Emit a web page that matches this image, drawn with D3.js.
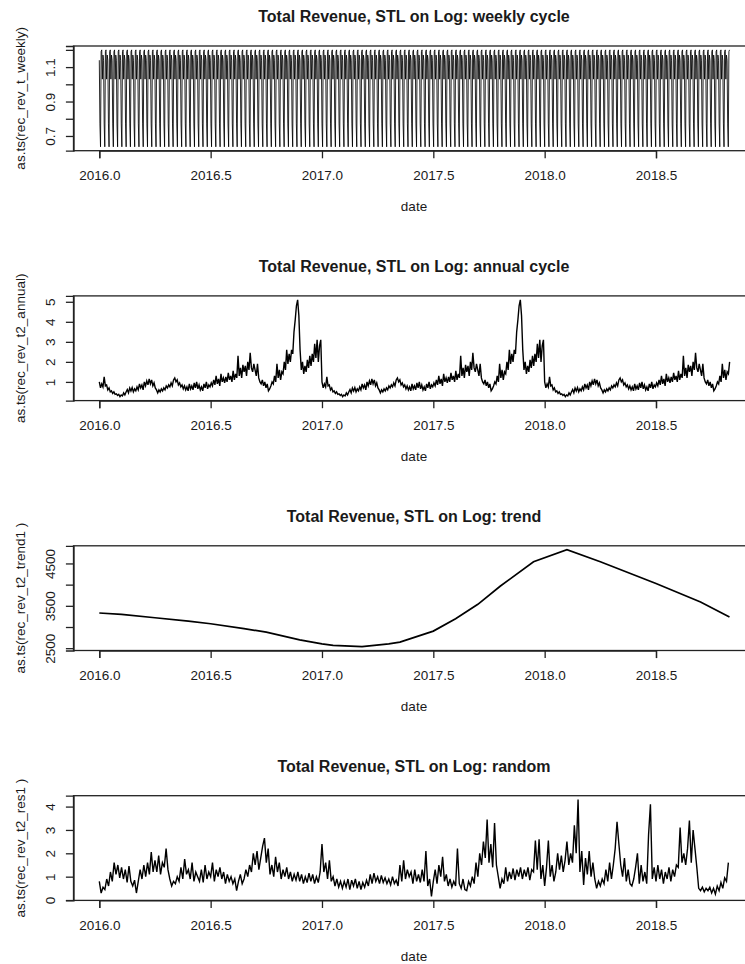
<!DOCTYPE html>
<html>
<head>
<meta charset="utf-8">
<script src="https://cdn.jsdelivr.net/npm/d3@7"></script>
<style>
  html, body { margin: 0; padding: 0; background: #fff; }
  svg { display: block; }
  text { font-family: "Liberation Sans", Arial, sans-serif; fill: #1a1a1a; }
</style>
</head>
<body>
<svg id="chart" width="745" height="964"></svg>
<script>
// ---------------- DATA ----------------
const panelTitles = [
  "Total Revenue, STL on Log: weekly cycle",
  "Total Revenue, STL on Log: annual cycle",
  "Total Revenue, STL on Log: trend",
  "Total Revenue, STL on Log: random"
];
const yAxisLabels = [
  "as.ts(rec_rev_t_weekly)",
  "as.ts(rec_rev_t2_annual)",
  "as.ts(rec_rev_t2_trend1 )",
  "as.ts(rec_rev_t2_res1 )"
];
const xAxisLabel = "date";
const xTicks = [2016.0, 2016.5, 2017.0, 2017.5, 2018.0, 2018.5];
const xTickLabels = ["2016.0", "2016.5", "2017.0", "2017.5", "2018.0", "2018.5"];

// weekly seasonal component: one 7-day cycle (daily series, starts 2016.0)
const weeklyCycle = [1.14, 0.77, 0.637, 1.19, 1.2, 1.03, 1.17];
const weeklyDays = 1034;
const weeklyTicks = [0.7, 0.8, 0.9, 1.0, 1.1, 1.2];
const weeklyTickLabels = ["0.7", "", "0.9", "", "1.1", ""];

// annual seasonal component: one year, 183 samples per year
const annualYear = [
  1.0, 0.7, 0.9, 0.75,
  1.25, 0.8,
  0.85, 0.6, 0.7, 0.5, 0.55, 0.42, 0.5, 0.38,
  0.4, 0.32, 0.38, 0.26, 0.35, 0.3, 0.45, 0.35,
  0.5, 0.62, 0.45, 0.7, 0.55, 0.72, 0.5, 0.65, 0.55,
  0.75, 0.6, 0.9, 0.7, 0.85, 0.6, 1.0, 0.8, 1.05, 0.85, 1.15, 0.9, 1.1, 0.8, 0.95,
  0.7, 0.6, 0.45, 0.6, 0.5, 0.65, 0.55, 0.7, 0.6, 0.8,
  0.7, 0.85, 0.75, 0.95, 0.8, 1.1, 1.2, 1.0, 1.1, 0.85, 0.95, 0.75,
  0.85, 0.65, 0.8, 0.6, 0.75, 0.55, 0.9, 0.65, 0.8, 0.6, 0.95, 0.7, 1.0, 0.65, 0.85, 0.6,
  0.75, 0.55, 0.9, 0.7, 1.0, 0.65, 0.85, 0.75, 0.95,
  0.8, 1.1, 0.85, 1.3, 0.9, 1.15, 0.8, 1.4, 1.0, 1.2, 0.95,
  1.25, 1.0, 1.45, 1.1, 1.3, 1.0, 1.55, 1.1, 1.4, 1.2, 2.3,
  1.3, 1.7, 1.2, 1.85, 1.5, 1.8, 1.3, 2.0, 1.6, 2.45, 1.7,
  1.5, 1.9, 1.6, 1.3, 1.9, 1.2, 1.0,
  0.9, 1.1, 0.8, 1.0, 0.7, 0.9, 0.55, 0.65,
  0.8, 1.0, 0.9, 1.3, 1.0, 1.9, 1.2, 1.6, 1.1, 1.5,
  1.4, 2.0, 1.6, 2.6, 1.9, 2.4, 2.0, 2.6,
  2.4, 3.5, 4.1, 4.8, 5.1, 4.3, 2.6,
  1.6, 2.0, 1.4, 1.8, 1.5, 2.1, 1.7, 2.3, 1.8, 2.4, 2.0,
  2.9, 2.2, 3.1, 2.0, 2.8, 3.1
];
const annualSamples = 519;
const annualTicks = [1, 2, 3, 4, 5];
const annualTickLabels = ["1", "2", "3", "4", "5"];

// trend component
const trendTime = [2016.0, 2016.1, 2016.25, 2016.4, 2016.5, 2016.65, 2016.75, 2016.9, 2017.0, 2017.05,
  2017.18, 2017.3, 2017.35, 2017.5, 2017.6, 2017.7, 2017.8, 2017.95, 2018.1, 2018.25, 2018.5, 2018.7, 2018.83];
const trendValue = [3330, 3298, 3219, 3140, 3077, 2960, 2879, 2698, 2603, 2565,
  2537, 2600, 2642, 2903, 3196, 3536, 3962, 4540, 4825, 4540, 4026, 3591, 3235];
const trendTicks = [2500, 3000, 3500, 4000, 4500];
const trendTickLabels = ["2500", "", "3500", "", "4500"];

// random (remainder) component: 120 samples per year from 2016.0
const randomValue = [
  0.8, 0.3, 0.55, 0.45, 0.9, 0.6,
  1.2, 0.8, 1.6, 1.1, 1.5, 0.95,
  1.4, 0.9, 1.3, 0.75, 1.45, 0.8,
  0.6, 0.85, 0.3, 0.8, 1.3, 0.9,
  1.5, 1.0, 1.6, 1.1, 2.05, 1.2,
  1.7, 1.2, 1.9, 1.1, 1.6, 1.4,
  2.2, 1.3, 0.9, 0.6, 0.8, 0.7,
  1.0, 0.8, 1.4, 0.9, 1.75, 1.1,
  1.3, 0.9, 1.6, 0.8, 1.2, 1.0,
  0.8, 1.3, 0.75, 1.5, 0.9, 1.2,
  1.0, 1.6, 0.8, 1.3, 1.0, 1.4,
  0.9, 1.2, 0.7, 1.1, 0.8, 1.0,
  0.7, 0.9, 0.4, 0.8, 1.1, 0.7,
  0.9, 1.3, 1.0, 1.5, 1.2, 2.0,
  1.5, 2.1, 1.3, 1.8, 2.3, 2.65,
  1.6, 2.2, 1.1, 1.5, 1.0, 1.85,
  1.2, 1.6, 0.9, 1.3, 1.0, 1.4,
  0.9, 1.2, 0.8, 1.1, 0.85, 1.2,
  0.8, 1.1, 0.7, 1.0, 0.75, 1.15,
  0.8, 1.1, 0.7, 1.0, 0.75, 1.2,
  2.4, 1.2, 1.6, 0.9, 1.7, 0.8,
  1.0, 0.6, 0.9, 0.55, 0.8, 0.5,
  0.8, 0.55, 0.9, 0.45, 0.85, 0.6,
  0.9, 0.5, 0.8, 0.45, 0.75, 0.55,
  0.85, 0.6, 1.1, 0.7, 1.15, 0.8,
  1.0, 0.7, 1.05, 0.75, 0.95, 0.7,
  0.9, 0.65, 1.0, 0.7, 0.85, 0.6,
  1.5, 0.8, 1.7, 0.9, 1.3, 1.0,
  1.2, 0.7, 1.3, 0.8, 1.1, 0.75,
  1.3, 0.8, 2.1, 0.6, 0.9, 0.15,
  0.8, 1.3, 0.7, 1.5, 1.0, 1.85,
  0.8, 1.1, 0.6, 0.9, 0.55, 0.8,
  0.6, 2.2, 0.7, 0.5, 0.9, 0.45,
  0.4, 0.8, 0.6, 1.0, 0.7, 1.6,
  1.0, 2.0, 1.5, 2.5, 1.8, 3.45,
  1.6, 2.4, 1.4, 3.3, 1.5, 1.0,
  0.5, 0.9, 0.7, 1.4, 0.8, 1.2,
  0.9, 1.35, 0.85, 1.3, 1.0, 1.4,
  0.9, 1.3, 1.0, 1.4, 0.85, 1.3,
  1.2, 2.55, 1.3, 2.6, 0.9, 1.5,
  0.6, 1.4, 2.55, 1.0, 1.5, 0.8,
  1.2, 2.0, 1.3, 1.9, 1.2, 1.7,
  2.5, 1.5, 2.0, 1.6, 3.2, 2.0,
  4.3, 1.2, 2.1, 0.65, 1.8, 1.1,
  2.1, 1.0, 1.6, 0.9, 0.5, 0.8,
  0.6, 0.9, 0.7, 1.3, 0.8, 1.6,
  0.9, 1.5, 2.2, 3.35, 2.4, 1.5,
  1.0, 1.8, 0.8, 1.3, 0.7, 0.6,
  0.9, 1.4, 2.0, 0.7, 1.5, 0.8,
  1.2, 0.7, 2.8, 4.1, 0.9, 1.4,
  0.8, 1.5, 0.9, 1.3, 0.7, 1.2,
  0.9, 1.4, 0.8, 1.3, 1.0, 1.5,
  1.4, 3.1, 1.6, 2.0, 1.5, 2.2,
  3.4, 1.6, 3.0, 2.2, 1.4, 0.5,
  0.4, 0.55, 0.35, 0.5, 0.4, 0.55,
  0.3, 0.5, 0.25, 0.6, 0.4, 0.75,
  0.5, 0.95, 0.8, 1.6
];
const randomTicks = [0, 1, 2, 3, 4];
const randomTickLabels = ["0", "1", "2", "3", "4"];

// ---------------- BUILD SERIES ----------------
const weeklySeries = d3.range(weeklyDays).map(d => ({ t: 2016 + d / 365, v: weeklyCycle[d % weeklyCycle.length] }));
const annualSeries = d3.range(annualSamples).map(i => ({ t: 2016 + i / annualYear.length, v: annualYear[i % annualYear.length] }));
const trendSeries = trendTime.map((t, i) => ({ t, v: trendValue[i] }));
const randomSeries = randomValue.map((v, i) => ({ t: 2016 + i / 120, v }));

const panels = [
  { series: weeklySeries, ticks: weeklyTicks, labels: weeklyTickLabels, lw: 0.85 },
  { series: annualSeries, ticks: annualTicks, labels: annualTickLabels, lw: 1.4 },
  { series: trendSeries, ticks: trendTicks, labels: trendTickLabels, lw: 1.7 },
  { series: randomSeries, ticks: randomTicks, labels: randomTickLabels, lw: 1.4 }
];

// ---------------- LAYOUT ----------------
const svg = d3.select("#chart");
svg.append("rect").attr("width", 745).attr("height", 964).attr("fill", "#fff");

const x = d3.scaleLinear().domain([2016.0, 2018.5]).range([99.3, 656]);
const boxLeft = 73.5, boxRight = 754.5;
const firstTop = 46, panelStep = 249.9, boxH = 104.7;

panels.forEach((p, k) => {
  const top = firstTop + k * panelStep;
  const bottom = top + boxH;
  const ext = d3.extent(p.series, d => d.v);
  const pad = (ext[1] - ext[0]) * 0.04;
  const y = d3.scaleLinear().domain([ext[0] - pad, ext[1] + pad]).range([bottom, top]);

  const g = svg.append("g");

  // data line
  g.append("path")
    .datum(p.series)
    .attr("fill", "none")
    .attr("stroke", "#000")
    .attr("stroke-width", p.lw)
    .attr("stroke-linejoin", "miter")
    .attr("d", d3.line().x(d => x(d.t)).y(d => y(d.v)));

  // box
  g.append("rect")
    .attr("x", boxLeft).attr("y", top)
    .attr("width", boxRight - boxLeft).attr("height", boxH)
    .attr("fill", "none").attr("stroke", "#222").attr("stroke-width", 1.3);

  // x axis
  const xa = g.append("g").attr("transform", `translate(0,${bottom})`)
    .call(d3.axisBottom(x).tickValues(xTicks).tickSize(7.6).tickFormat((d, i) => xTickLabels[i]));
  xa.select(".domain").attr("stroke", "#222").attr("stroke-width", 1.3);
  xa.selectAll(".tick line").attr("stroke", "#222").attr("stroke-width", 1.3);
  xa.selectAll(".tick text")
    .attr("y", 25).attr("dy", "0.35em")
    .style("font-size", "13.5px").style("font-family", "Liberation Sans, Arial, sans-serif")
    .attr("fill", "#1a1a1a");

  // y axis
  const ya = g.append("g").attr("transform", `translate(${boxLeft},0)`)
    .call(d3.axisLeft(y).tickValues(p.ticks).tickSize(7.6).tickFormat((d, i) => p.labels[i]));
  ya.select(".domain").attr("stroke", "#222").attr("stroke-width", 1.3);
  ya.selectAll(".tick line").attr("stroke", "#222").attr("stroke-width", 1.3);
  ya.selectAll(".tick text")
    .attr("x", null).attr("dy", null)
    .attr("text-anchor", "middle")
    .attr("dominant-baseline", "central")
    .attr("transform", "translate(-23.5,0) rotate(-90)")
    .style("font-size", "13.5px").style("font-family", "Liberation Sans, Arial, sans-serif")
    .attr("fill", "#1a1a1a");

  // title
  g.append("text")
    .attr("x", (boxLeft + boxRight) / 2).attr("y", top - 29.3)
    .attr("text-anchor", "middle").attr("dominant-baseline", "central")
    .style("font-size", "16px").style("font-weight", "bold")
    .text(panelTitles[k]);

  // x label
  g.append("text")
    .attr("x", (boxLeft + boxRight) / 2).attr("y", bottom + 56)
    .attr("text-anchor", "middle").attr("dominant-baseline", "central")
    .style("font-size", "13.5px")
    .text(xAxisLabel);

  // y label
  g.append("text")
    .attr("transform", `translate(20,${(top + bottom) / 2}) rotate(-90)`)
    .attr("text-anchor", "middle").attr("dominant-baseline", "central")
    .style("font-size", "13.5px")
    .text(yAxisLabels[k]);
});
</script>
</body>
</html>
